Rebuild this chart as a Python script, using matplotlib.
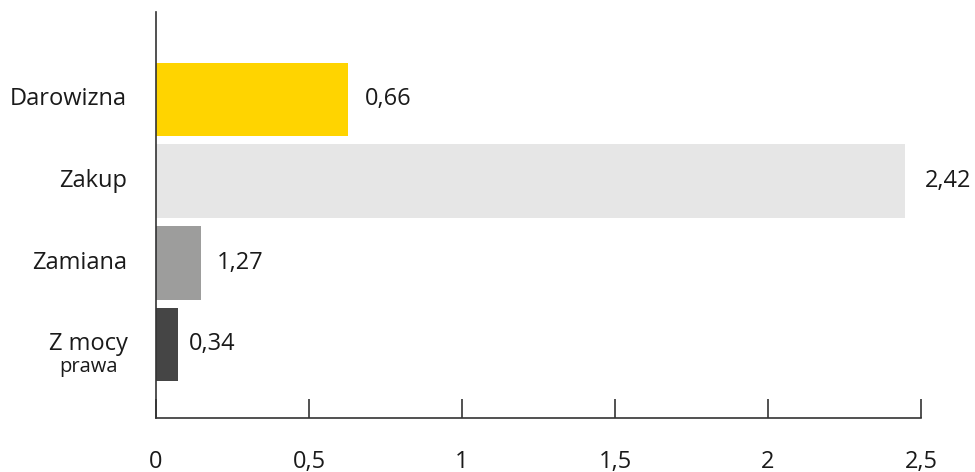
import matplotlib.pyplot as plt
from matplotlib.transforms import blended_transform_factory

plt.rcParams['font.family'] = ['Open Sans', 'DejaVu Sans']

# data (bar lengths and printed labels differ in the original)
categories = ["Darowizna", "Zakup", "Zamiana", "Z mocy"]
sub_labels = ["", "", "", "prawa"]
bar_values = [0.628, 2.448, 0.147, 0.072]
value_labels = ["0,66", "2,42", "1,27", "0,34"]
label_gaps = [17, 20, 16, 11]  # pixels between bar end and its label
colors = ["#FFD400", "#E6E6E6", "#9D9D9C", "#454545"]
xticks = [0, 0.5, 1, 1.5, 2, 2.5]
xtick_labels = ["0", "0,5", "1", "1,5", "2", "2,5"]

fig = plt.figure(figsize=(9.75, 4.72), dpi=100)
ax = fig.add_axes([156/975, 54/472, (921-156)/975, (418-12)/472])

ypos = [3, 2, 1, 0]
ax.barh(ypos, bar_values, height=0.9, color=colors)

ax.set_xlim(0, 2.5)
ax.set_ylim(-0.9, 4.07)

for s in ["top", "right"]:
    ax.spines[s].set_visible(False)
for s in ["left", "bottom"]:
    ax.spines[s].set_color("#333333")
    ax.spines[s].set_linewidth(1.2)

FS = 17
ax.set_xticks(xticks)
ax.set_xticklabels(xtick_labels, fontsize=FS, color="#1a1a1a")
ax.tick_params(axis="x", direction="in", length=14, width=1.2, color="#333333", pad=23)
ax.set_yticks([])

trans = blended_transform_factory(ax.transAxes, ax.transData)
px = 1.0 / (921 - 156)
for y, cat, sub in zip(ypos, categories, sub_labels):
    if sub:
        ax.text(-68 * px, y, cat, transform=trans, ha="center", va="center",
                fontsize=FS, color="#1a1a1a")
        ax.text(-68 * px, y - 0.28, sub, transform=trans, ha="center", va="center",
                fontsize=14.5, color="#1a1a1a")
    else:
        ax.text(-29 * px, y, cat, transform=trans, ha="right", va="center",
                fontsize=FS, color="#1a1a1a")

for y, v, lab, gap in zip(ypos, bar_values, value_labels, label_gaps):
    ax.annotate(lab, (v, y), xytext=(gap * 0.72, 0), textcoords="offset points",
                ha="left", va="center", fontsize=FS, color="#1a1a1a")

fig.savefig("out.png", dpi=100)
